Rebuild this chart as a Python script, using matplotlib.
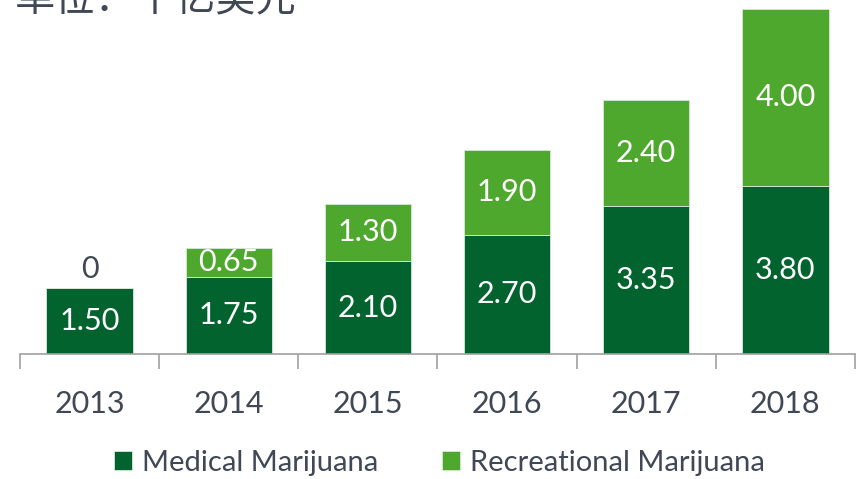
import matplotlib.pyplot as plt
import numpy as np

# data (billion USD)
years = ["2013", "2014", "2015", "2016", "2017", "2018"]
medical = [1.50, 1.75, 2.10, 2.70, 3.35, 3.80]
recreational = [0.00, 0.65, 1.30, 1.90, 2.40, 4.00]
series_names = ["Medical Marijuana", "Recreational Marijuana"]
title = "单位：十亿美元"

dark_green = "#03632F"
light_green = "#4FA82E"
text_grey = "#404855"
axis_grey = "#A0A0A0"

plt.rcParams['font.family'] = ['Lato', 'DejaVu Sans']

fig = plt.figure(figsize=(8.62, 4.79), dpi=100)
ax = fig.add_axes([20 / 862, 1 - 354 / 479, 835 / 862, 354 / 479])

x = np.arange(len(years))
w = 0.62
b1 = ax.bar(x, medical, w, color=dark_green, edgecolor="#d8e8d8", linewidth=0.6,
            label=series_names[0])
b2 = ax.bar(x, recreational, w, bottom=medical, color=light_green, edgecolor="#d8e8d8",
            linewidth=0.6, label=series_names[1])

for i in range(len(years)):
    ax.text(x[i], medical[i] / 2, f"{medical[i]:.2f}", ha="center", va="center",
            color="white", fontsize=22)
    if recreational[i] > 0:
        ax.text(x[i], medical[i] + recreational[i] / 2, f"{recreational[i]:.2f}",
                ha="center", va="center", color="white", fontsize=22)
    else:
        ax.text(x[i], medical[i] + 0.42, "0", ha="center", va="center",
                color=text_grey, fontsize=22)

ax.set_xlim(-0.5, len(years) - 0.5)
ax.set_ylim(0, 8.0)
ax.set_yticks([])
for s in ["top", "right", "left"]:
    ax.spines[s].set_visible(False)
ax.spines["bottom"].set_color(axis_grey)
ax.spines["bottom"].set_linewidth(1.2)

# category boundary ticks
ax.set_xticks(np.arange(-0.5, len(years), 1.0), minor=False)
ax.set_xticklabels([])
ax.tick_params(axis="x", which="major", length=11, width=1.2, color=axis_grey)
ax.set_xticks(x, minor=True)
ax.set_xticklabels(years, minor=True, fontsize=22, color=text_grey)
ax.tick_params(axis="x", which="minor", length=0, pad=26)

fig.text(15 / 862, 1 - 20 / 479, title, ha="left", va="bottom", fontsize=29,
         color=text_grey, family=['Noto Sans CJK SC', 'DejaVu Sans'])

fig.legend(handles=[b1, b2], labels=series_names, loc="center",
           bbox_to_anchor=(0.51, 1 - 463 / 479), ncol=2, frameon=False,
           fontsize=21, labelcolor=text_grey, handlelength=0.6, handleheight=0.6,
           handletextpad=0.35, columnspacing=2.2)

fig.savefig("out.png", dpi=100)
